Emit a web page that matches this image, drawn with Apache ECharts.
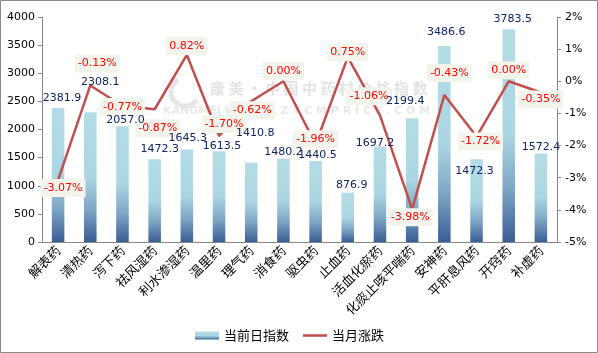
<!DOCTYPE html>
<html>
<head>
<meta charset="utf-8">
<script src="https://cdn.jsdelivr.net/npm/echarts@6/dist/echarts.min.js"></script>
<style>
    html, body { margin: 0; padding: 0; background: #fff; }
    #mychart1 { width: 598px; height: 353px; }
</style>
</head>
<body>
<div id="mychart1"></div>
<script>
//品类名称
var categories = ['解表药', '清热药', '泻下药', '祛风湿药', '利水渗湿药', '温里药', '理气药', '消食药', '驱虫药', '止血药', '活血化瘀药', '化痰止咳平喘药', '安神药', '平肝息风药', '开窍药', '补虚药'];
//当前日指数
var indexValues = [2381.9, 2308.1, 2057.0, 1472.3, 1645.3, 1613.5, 1410.8, 1480.2, 1440.5, 876.9, 1697.2, 2199.4, 3486.6, 1472.3, 3783.5, 1572.4];
//当月涨跌(%)
var monthChange = [-3.07, -0.13, -0.77, -0.87, 0.82, -1.70, -0.62, 0.00, -1.96, 0.75, -1.06, -3.98, -0.43, -1.72, 0.00, -0.35];
//坐标轴刻度
var leftTicks = { min: 0, max: 4000, interval: 500 };
var rightTicks = { min: -5, max: 2, interval: 1 };

//标签微调(像素)，避免重叠
var barLabelOffset = [[4, -4], [10, -25], [3, -1], [5, -5], [1, -6], [3, 0], [4, -24], [0, -1], [2, 0], [4, -2], [-5, 2], [-7, -12], [2, -8], [-2, 17], [4, -5], [0, -1]];
var lineLabelOffset = [[5, 8], [7, -22], [0, 1], [3, 19], [0, -9], [5, -12], [1, 9], [0, -10], [0, -5], [0, -5], [-11, -19], [-2, 8], [5, -22], [4, 5], [0, -11], [0, 7]];

var numFont = 'DejaVu Sans';

function $each(list, fn) {
    for (var i = 0; i < list.length; i++) fn(i, list[i]);
}
//柱子数值标签单独一层，放在折线标签之上
function buildBarLabelData() {
    var arr = [];
    $each(indexValues, function (i, v) {
        arr.push({ value: v, label: { offset: barLabelOffset[i] } });
    });
    return arr;
}

var myChart = echarts.init(document.getElementById('mychart1'));
var barColor = new echarts.graphic.LinearGradient(0, 0, 0, 1, [
    { offset: 0, color: '#b3dce6' },
    { offset: 0.5, color: '#acd6e2' },
    { offset: 0.75, color: '#7ea6c6' },
    { offset: 1, color: '#3a5d93' }
]);
var option = {
    animation: false,
    graphic: [
        {
            type: 'rect', z: 100, silent: true,
            shape: { x: 0.5, y: 0.5, width: 597, height: 352 },
            style: { fill: 'none', stroke: '#8a8a8a', lineWidth: 1 }
        },
        {
            type: 'text', z: 0, left: 210, top: 81, silent: true,
            style: { text: '康 美 · 中 国 中 药 材 价 格 指 数', fill: '#e3e3e3', font: 'bold 15px "Noto Sans CJK SC"' }
        },
        {
            type: 'text', z: 0, left: 163, top: 106, silent: true,
            style: { text: 'KANGMEI W W W . Z Y C M P R I C E . C O M', fill: '#e8e8e8', font: 'bold 11px "DejaVu Sans"' }
        },
        {
            type: 'arc', z: 0, silent: true,
            shape: { cx: 185, cy: 92, r: 14, startAngle: 0.6, endAngle: 4.2 },
            style: { fill: 'none', stroke: '#e6e6e6', lineWidth: 5 }
        }
    ],
    grid: {
        left: 42,
        right: 41,
        top: 17,
        bottom: 111
    },
    legend: {
        left: 190,
        top: 324,
        itemWidth: 24,
        itemHeight: 8,
        itemGap: 14,
        textStyle: { fontFamily: 'Noto Sans CJK SC', fontSize: 13, color: '#000' },
        data: [
            { name: '当前日指数', icon: 'rect' },
            { name: '当月涨跌', icon: 'path://M0,0 L28,0 L28,3 L0,3 Z', itemStyle: { color: '#c0504d' } }
        ]
    },
    xAxis: [
        {
            type: 'category',
            data: categories,
            axisLine: { lineStyle: { color: '#868686' } },
            axisTick: { length: 4, lineStyle: { color: '#868686' } },
            axisLabel: {
                rotate: 45,
                interval: 0,
                margin: 6,
                color: '#000',
                fontFamily: 'Noto Sans CJK SC',
                fontSize: 13
            }
        }
    ],
    yAxis: [
        {
            type: 'value',
            min: leftTicks.min,
            max: leftTicks.max,
            interval: leftTicks.interval,
            splitLine: { show: false },
            axisLine: { show: true, lineStyle: { color: '#868686' } },
            axisTick: { show: true, length: 4, lineStyle: { color: '#868686' } },
            axisLabel: {
                color: '#000', fontFamily: numFont, fontSize: 11, margin: 7,
                formatter: function (v) { return String(v); }
            }
        },
        {
            type: 'value',
            min: rightTicks.min,
            max: rightTicks.max,
            interval: rightTicks.interval,
            splitLine: { show: false },
            axisLine: { show: true, lineStyle: { color: '#868686' } },
            axisTick: { show: true, length: 4, lineStyle: { color: '#868686' } },
            axisLabel: { color: '#000', fontFamily: numFont, fontSize: 11, margin: 8, formatter: '{value}%' }
        }
    ],
    series: [
        {
            name: '当前日指数',
            type: 'bar',
            barWidth: '39%',
            z: 2,
            itemStyle: { color: barColor },
            data: indexValues
        },
        {
            name: '当月涨跌',
            type: 'line',
            yAxisIndex: 1,
            z: 3,
            symbol: 'circle',
            symbolSize: 1,
            showSymbol: true,
            lineStyle: { color: '#c0504d', width: 2.5 },
            itemStyle: { color: '#c0504d' },
            label: {
                show: true,
                position: 'inside',
                color: '#ff0000',
                backgroundColor: '#f3f5ec',
                padding: [4, 3, 3, 3],
                fontFamily: numFont,
                fontSize: 11,
                formatter: function (p) { return p.value.toFixed(2) + '%'; }
            },
            labelLayout: function (params) {
                var off = lineLabelOffset[params.dataIndex];
                return { hideOverlap: false, dx: off[0], dy: off[1] };
            },
            data: monthChange
        },
        {
            name: '指数标签',
            type: 'bar',
            barWidth: '39%',
            barGap: '-100%',
            z: 4,
            silent: true,
            itemStyle: { color: 'rgba(0,0,0,0)' },
            label: {
                show: true,
                position: 'top',
                distance: 0,
                color: '#0f2563',
                fontFamily: numFont,
                fontSize: 11,
                formatter: function (p) { return p.value.toFixed(1); }
            },
            data: buildBarLabelData()
        }
    ]
};
myChart.setOption(option);
</script>
</body>
</html>
